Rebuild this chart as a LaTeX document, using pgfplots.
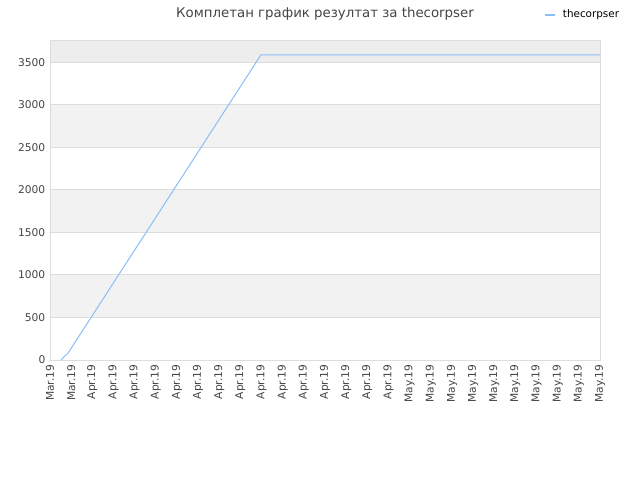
\documentclass[border=0pt]{standalone}
\usepackage{fontspec}
\setmainfont{DejaVu Sans}
\usepackage{pgfplots}
\pgfplotsset{compat=1.18}
\definecolor{linecol}{RGB}{140,190,245}
\definecolor{bandgray}{RGB}{242,242,242}
\definecolor{topgray}{RGB}{237,237,237}
\definecolor{gridgray}{RGB}{221,221,221}
\definecolor{textgray}{RGB}{68,68,68}

\begin{document}
\begin{tikzpicture}
\begin{axis}[
    set layers,
    scale only axis,
    width=412.5pt, height=240pt,
    at={(0,0)}, anchor=south west,
    xmin=0, xmax=26, ymin=0, ymax=3760,
    xtick={0,...,26},
    xticklabels={Mar.19,Mar.19,Apr.19,Apr.19,Apr.19,Apr.19,Apr.19,Apr.19,Apr.19,Apr.19,Apr.19,Apr.19,Apr.19,Apr.19,Apr.19,Apr.19,Apr.19,May.19,May.19,May.19,May.19,May.19,May.19,May.19,May.19,May.19,May.19},
    x tick label style={rotate=90, anchor=east, font=\fontsize{8}{9}\selectfont, text=textgray},
    ytick={0,500,...,3500},
    y tick label style={font=\fontsize{8}{9}\selectfont, text=textgray},
    /pgf/number format/assume math mode=true,
    /pgf/number format/1000 sep={},
    ymajorgrids, grid style={gridgray, line width=0.6pt},
    axis line style={gridgray, line width=0.6pt},
    major tick length=0pt,
    title={Комплетан график резултат за thecorpser},
    title style={font=\fontsize{10}{11}\selectfont, text=textgray, at={(0.5,1)}, anchor=center, yshift=14pt},
    legend style={at={(1.04,1.078)}, anchor=east, draw=none, fill=none, inner sep=0pt, font=\fontsize{7.8}{9}\selectfont, legend cell align=left},
    legend image code/.code={\draw[#1, line width=1pt] (0pt,0pt) -- (7.5pt,0pt); \path (11pt,0pt);},
]
\addplot[fill=bandgray, draw=none, forget plot, on layer=axis background] coordinates {(0,500) (26,500) (26,1000) (0,1000)} -- cycle;
\addplot[fill=bandgray, draw=none, forget plot, on layer=axis background] coordinates {(0,1500) (26,1500) (26,2000) (0,2000)} -- cycle;
\addplot[fill=bandgray, draw=none, forget plot, on layer=axis background] coordinates {(0,2500) (26,2500) (26,3000) (0,3000)} -- cycle;
\addplot[fill=topgray, draw=none, forget plot, on layer=axis background] coordinates {(0,3500) (26,3500) (26,3760) (0,3760)} -- cycle;
\addplot[linecol, line width=0.75pt] coordinates {
(0.52,0) (0.71,50) (0.85,80) (9.97,3585) (26,3585)
};
\legend{thecorpser}
\end{axis}
\path (-37.5pt,-90pt) rectangle (442.5pt,270pt);
\end{tikzpicture}
\end{document}
